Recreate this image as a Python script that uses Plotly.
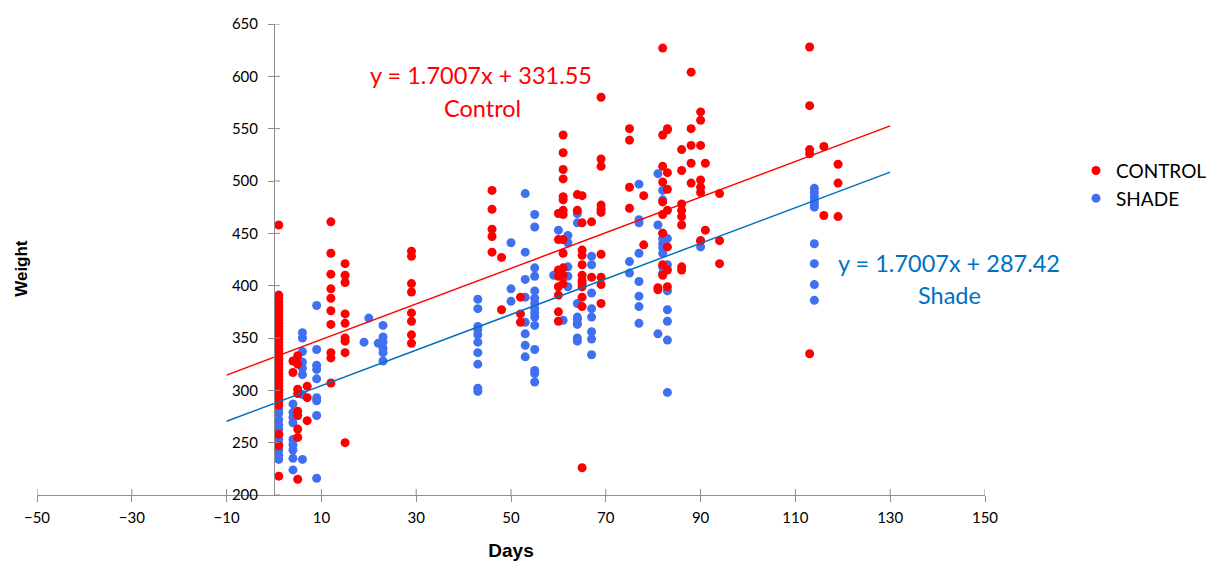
import plotly.graph_objects as go

# ---------------- data ----------------
control_days = (
    [1] * 40 + [4] * 2 + [5] * 9 + [7] * 3 + [12] * 10 + [15] * 9 + [29] * 8 +
    [46] * 5 + [48] * 2 + [52] * 3 + [60] * 8 + [61] * 13 + [64] * 2 + [65] * 12 +
    [67] * 2 + [69] * 10 + [75] * 4 + [78] * 2 + [81] * 2 + [82] * 9 + [83] * 8 +
    [86] * 8 + [88] * 5 + [90] * 7 + [91] * 2 + [94] * 3 + [113] * 5 + [116] * 2 + [119] * 3
)
control_weight = (
    [458, 391, 388, 385, 382, 379, 376, 373, 370, 367, 364, 361, 358, 355, 352, 349, 346, 343, 340, 337,
     334, 331, 328, 325, 322, 319, 316, 313, 310, 307, 304, 301, 298, 295, 292, 289, 286, 258, 247, 218]
    + [328, 317]
    + [333, 325, 301, 297, 280, 276, 263, 255, 215]
    + [304, 293, 271]
    + [461, 431, 411, 397, 388, 376, 363, 336, 331, 307]
    + [421, 410, 403, 373, 364, 350, 347, 336, 250]
    + [433, 428, 402, 394, 374, 366, 353, 345]
    + [491, 473, 454, 447, 432]
    + [427, 377]
    + [389, 373, 365]
    + [469, 444, 415, 409, 399, 391, 375, 366]
    + [544, 527, 511, 502, 485, 482, 472, 468, 444, 431, 417, 410, 402]
    + [472, 487]
    + [486, 460, 434, 429, 420, 410, 402, 405, 399, 389, 380, 226]
    + [461, 408]
    + [580, 521, 514, 477, 473, 470, 430, 408, 401, 383]
    + [550, 539, 494, 474]
    + [486, 439]
    + [398, 396]
    + [627, 544, 514, 499, 480, 468, 450, 420, 410]
    + [550, 549, 508, 492, 472, 437, 415, 399]
    + [530, 510, 478, 472, 466, 458, 418, 415]
    + [604, 550, 534, 517, 498]
    + [566, 558, 534, 501, 494, 489, 443]
    + [517, 453]
    + [488, 443, 421]
    + [628, 572, 530, 526, 335]
    + [533, 467]
    + [516, 498, 466]
)

shade_days = (
    [1] * 16 + [4] * 9 + [6] * 8 + [9] * 9 + [19] + [20] + [22] + [23] * 6 +
    [43] * 10 + [50] * 3 + [53] * 8 + [55] * 15 + [59] + [60] * 2 + [61] + [62] * 5 +
    [64] * 9 + [67] * 8 + [75] * 2 + [77] * 8 + [81] * 3 + [82] * 9 + [83] * 7 + [90] * 2 + [114] * 10
)
shade_weight = (
    [340, 330, 320, 310, 300, 282, 278, 272, 267, 263, 258, 253, 248, 243, 238, 234]
    + [287, 279, 274, 269, 253, 248, 243, 235, 224]
    + [355, 350, 337, 327, 321, 315, 296, 234]
    + [381, 339, 324, 320, 311, 293, 290, 276, 216]
    + [346] + [369] + [345]
    + [362, 351, 346, 340, 336, 328]
    + [387, 378, 361, 358, 353, 346, 336, 325, 302, 299]
    + [441, 397, 385]
    + [488, 432, 406, 389, 365, 354, 343, 332]
    + [468, 456, 417, 409, 395, 388, 383, 378, 374, 370, 362, 339, 319, 316, 308]
    + [410]
    + [453, 412]
    + [367]
    + [448, 441, 418, 409, 399]
    + [469, 460, 383, 370, 368, 364, 363, 350, 347]
    + [428, 420, 393, 378, 370, 356, 349, 334]
    + [423, 412]
    + [497, 463, 460, 431, 404, 390, 380, 364]
    + [507, 458, 354]
    + [491, 482, 450, 445, 440, 436, 431, 418, 412]
    + [445, 420, 395, 377, 366, 348, 298]
    + [443, 437]
    + [493, 489, 485, 481, 478, 475, 440, 421, 401, 386]
)

slope = 1.7007
control_intercept = 331.55
shade_intercept = 287.42
trend_x = [-10, 130]

x_ticks = list(range(-50, 151, 20))
y_ticks = list(range(200, 651, 50))

control_label = "y = 1.7007x + 331.55"
shade_label = "y = 1.7007x + 287.42"

# ---------------- figure ----------------
RED = "#FF0000"
BLUE_M = "#4070F2"
BLUE_L = "#0070C0"
AXIS = "#8C8C8C"
TICKFONT = "Lato"

fig = go.Figure()
fig.add_trace(go.Scatter(x=shade_days, y=shade_weight, mode="markers", name="SHADE",
                         marker=dict(color=BLUE_M, size=9, line=dict(width=0)), legendrank=2))
fig.add_trace(go.Scatter(x=control_days, y=control_weight, mode="markers", name="CONTROL",
                         marker=dict(color=RED, size=9, line=dict(width=0)), legendrank=1))
fig.add_trace(go.Scatter(x=trend_x, y=[slope * v + control_intercept for v in trend_x], mode="lines",
                         line=dict(color=RED, width=1.5), showlegend=False, hoverinfo="skip"))
fig.add_trace(go.Scatter(x=trend_x, y=[slope * v + shade_intercept for v in trend_x], mode="lines",
                         line=dict(color=BLUE_L, width=1.5), showlegend=False, hoverinfo="skip"))

# inner halves of the crossing tick marks
shapes = []
for t in x_ticks:
    shapes.append(dict(type="line", xref="x", yref="y", x0=t, x1=t, ysizemode="pixel", yanchor=200,
                       y0=0, y1=6, line=dict(color=AXIS, width=1)))
for t in y_ticks:
    shapes.append(dict(type="line", xref="x", yref="y", y0=t, y1=t, xsizemode="pixel", xanchor=0,
                       x0=0, x1=6, line=dict(color=AXIS, width=1)))

fig.update_layout(
    width=1214, height=562,
    margin=dict(l=37, r=229, t=24, b=67, autoexpand=False),
    plot_bgcolor="white", paper_bgcolor="white",
    font=dict(family=TICKFONT, color="#000000"),
    shapes=shapes,
    xaxis=dict(range=[-50, 150], tickvals=x_ticks, showgrid=False, zeroline=False,
               showline=True, linecolor=AXIS, linewidth=1, ticks="outside", ticklen=6,
               tickcolor=AXIS, tickfont=dict(size=15, family=TICKFONT, color="#000000"),
               ticklabelstandoff=3,
               title=dict(text="<b>Days</b>", font=dict(family="Liberation Sans", size=19), standoff=18),
               domain=[0, 1]),
    yaxis=dict(range=[200, 650], tickvals=y_ticks, showgrid=False, zeroline=False,
               showline=True, linecolor=AXIS, linewidth=1, ticks="outside", ticklen=6,
               tickcolor=AXIS, tickfont=dict(size=15, family=TICKFONT, color="#000000"),
               ticklabelstandoff=7,
               anchor="free", position=0.25, side="left"),
    legend=dict(x=1.096, y=0.729, xanchor="left", yanchor="top", font=dict(size=19, family=TICKFONT),
                bgcolor="rgba(0,0,0,0)", itemwidth=30, tracegroupgap=0),
    showlegend=True,
    annotations=[
        dict(text="<b>Weight</b>", xref="paper", yref="paper", x=-0.016, y=0.482, textangle=-90,
             showarrow=False, font=dict(family="Liberation Sans", size=17, color="#000000"),
             xanchor="center", yanchor="middle"),
        dict(text=control_label, x=43.7, y=601, xref="x", yref="y", showarrow=False,
             font=dict(family=TICKFONT, size=23.5, color=RED), xanchor="center", yanchor="middle"),
        dict(text="Control", x=43.9, y=569.6, xref="x", yref="y", showarrow=False,
             font=dict(family=TICKFONT, size=23.5, color=RED), xanchor="center", yanchor="middle"),
        dict(text=shade_label, x=142.4, y=421.6, xref="x", yref="y", showarrow=False,
             font=dict(family=TICKFONT, size=23.5, color=BLUE_L), xanchor="center", yanchor="middle"),
        dict(text="Shade", x=142.6, y=391, xref="x", yref="y", showarrow=False,
             font=dict(family=TICKFONT, size=23.5, color=BLUE_L), xanchor="center", yanchor="middle"),
    ],
)

fig.write_html("out.html")
